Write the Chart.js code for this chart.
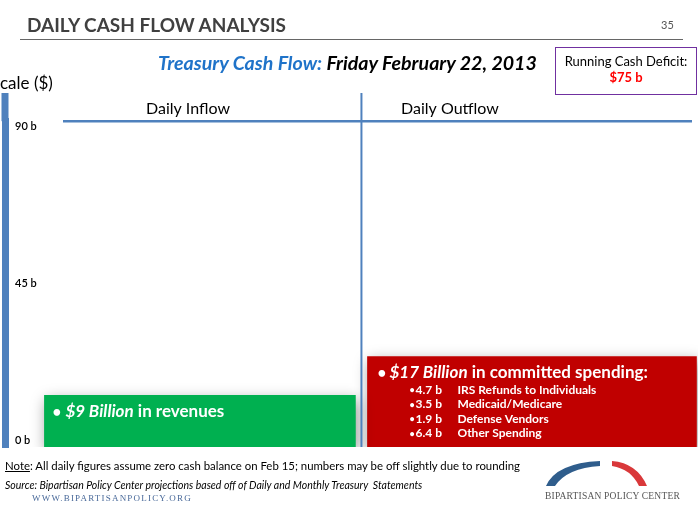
<!DOCTYPE html>
<html lang="en">
<head>
<meta charset="UTF-8">
<title>Daily Cash Flow Analysis</title>
<script src="https://cdn.jsdelivr.net/npm/chart.js@4"></script>
<style>
    body { margin: 0; width: 700px; height: 525px; overflow: hidden; background: #fff; font-family: Lato, 'Open Sans', sans-serif; position: relative; }
    #chart { position: absolute; left: 0; top: 0; }
    .t { position: absolute; white-space: nowrap; line-height: 1; }
    .head { left: 27px; top: 15px; font-size: 19px; font-weight: 700; color: #404040; }
    .rule { position: absolute; left: 20px; top: 39px; width: 663px; height: 1px; background: #666; }
    .page { left: 661px; top: 19px; font-size: 11px; color: #555; }
    .sub { left: 158px; top: 53px; font-size: 19.6px; font-weight: 700; font-style: italic; color: #000; }
    .sub span { color: #1f73c9; }
    .box { position: absolute; left: 555px; top: 47px; width: 140px; height: 41px; border: 1.5px solid #7030a0; text-align: center; font-size: 13px; line-height: 16px; padding-top: 5px; box-sizing: content-box; }
    .box b { color: #ff0000; }
    .scale { left: 0; top: 74px; font-size: 17px; color: #000; }
    .note { left: 5px; top: 460px; font-size: 11.4px; color: #000; }
    .note u { text-decoration: underline; }
    .src { left: 5px; top: 480px; font-size: 10.5px; font-style: italic; color: #000; }
    .url { left: 32px; top: 494px; font-size: 9px; font-family: 'Liberation Serif', 'DejaVu Serif', serif; letter-spacing: 1.2px; color: #4a6a9a; }
    .bpc { left: 545px; top: 492px; font-size: 9.5px; font-family: 'Liberation Serif', 'DejaVu Serif', serif; letter-spacing: 0.2px; color: #555; }
    #logo { position: absolute; left: 0; top: 0; }
</style>
</head>
<body>
<canvas id="chart" width="700" height="525"></canvas>

<div class="t head">DAILY CASH FLOW ANALYSIS</div>
<div class="rule"></div>
<div class="t page">35</div>
<div class="t sub"><span>Treasury Cash Flow:</span> Friday February 22, 2013</div>
<div class="box">Running Cash Deficit:<br><b>$75 b</b></div>
<div class="t scale">cale ($)</div>
<div class="t note"><u>Note</u>: All daily figures assume zero cash balance on Feb 15; numbers may be off slightly due to rounding</div>
<div class="t src">Source: Bipartisan Policy Center projections based off of Daily and Monthly Treasury&nbsp; Statements</div>
<div class="t url">WWW.BIPARTISANPOLICY.ORG</div>
<svg id="logo" width="700" height="525">
    <path d="M546,486 Q556,463 600,461 L600,466 Q567,468 555,486 Z" fill="#2f5d8c"/>
    <path d="M612,461 Q637,463 647,486 L639,486 Q631,469 612,466 Z" fill="#d9383a"/>
</svg>
<div class="t bpc">BIPARTISAN POLICY CENTER</div>

<script>
// values, $ billions
const CATEGORIES = ['Daily Inflow', 'Daily Outflow'];
const FLOWS = [9, 17];
const Y_TICKS = [0, 45, 90];
const OUTFLOW_VALUES = [4.7, 3.5, 1.9, 6.4];
const OUTFLOW_ITEMS = ['IRS Refunds to Individuals', 'Medicaid/Medicare', 'Defense Vendors', 'Other Spending'];

// axis ranges picked so the slide's ticks and boxes land where they are drawn
const Y_RANGE = [-2, 91.4];
const BAR_RANGE = [-1.64, 65.6];
const X_RANGE = [-0.587, 1.5];
const LABEL_AT = [-0.036, 0.753];

const BLUE = '#4f81bd';
const FONT = 'Lato, "Open Sans", sans-serif';

// soft drop shadow under the boxes
const shadow = {
    id: 'shadow',
    beforeDatasetsDraw(chart) {
        const c = chart.ctx;
        c.save();
        c.shadowColor = 'rgba(0,0,0,0.4)';
        c.shadowBlur = 14;
        c.shadowOffsetX = 2;
        c.shadowOffsetY = 5;
    },
    afterDatasetsDraw(chart) { chart.ctx.restore(); }
};

// header rule, divider between the two columns, axis bar running up to the labels
const lines = {
    id: 'lines',
    afterDraw(chart) {
        const c = chart.ctx, a = chart.chartArea, xs = chart.scales.x, ys = chart.scales.y;
        const g = chart.getDatasetMeta(0).data[0], r = chart.getDatasetMeta(1).data[0];
        const mid = ((g.x + g.width / 2) + (r.x - r.width / 2)) / 2;
        c.save();
        c.strokeStyle = BLUE;
        c.lineWidth = 2.5;
        c.beginPath();
        c.moveTo(a.left + 58, a.top); c.lineTo(a.right - 6, a.top);
        c.stroke();
        c.lineWidth = 2;
        c.beginPath();
        c.moveTo(mid, xs.top - 3); c.lineTo(mid, a.bottom);
        c.stroke();
        c.fillStyle = BLUE;
        c.fillRect(ys.right - 3.5, xs.top - 3, 7, a.top - xs.top + 3);
        c.restore();
    }
};

// the writing inside the two boxes
const boxText = {
    id: 'boxText',
    afterDatasetsDraw(chart) {
        const c = chart.ctx;
        const g = chart.getDatasetMeta(0).data[0], r = chart.getDatasetMeta(1).data[0];
        const gl = g.x - g.width / 2, rl = r.x - r.width / 2;
        c.save();
        c.fillStyle = '#fff';
        c.textBaseline = 'alphabetic';

        function runs(x, y, parts) {
            parts.forEach(p => {
                c.font = p[0] + ' ' + FONT;
                c.fillText(p[1], x, y);
                x += c.measureText(p[1]).width;
            });
        }
        c.font = 'bold 15px ' + FONT;
        c.fillText('•', gl + 8, g.y + 22);
        runs(gl + 21, g.y + 22, [['italic bold 17px', '$' + FLOWS[0] + ' Billion'], ['bold 17px', ' in revenues']]);

        c.font = 'bold 15px ' + FONT;
        c.fillText('•', rl + 10, r.y + 21);
        runs(rl + 22, r.y + 21, [['italic bold 17px', '$' + FLOWS[1] + ' Billion'], ['bold 17px', ' in committed spending:']]);

        OUTFLOW_VALUES.forEach((v, i) => {
            const y = r.y + 37 + i * 14.5;
            c.font = 'bold 9px ' + FONT;
            c.fillText('•', rl + 42, y - 0.5);
            c.font = 'bold 12px ' + FONT;
            c.fillText(v.toFixed(1) + ' b', rl + 48, y);
            c.fillText(OUTFLOW_ITEMS[i], rl + 90, y);
        });
        c.restore();
    }
};

new Chart(document.getElementById('chart'), {
    type: 'bar',
    data: {
        datasets: [
            { label: CATEGORIES[0], data: [{ x: 0, y: FLOWS[0] }], backgroundColor: '#00b050', barThickness: 311, grouped: false, yAxisID: 'yb', base: BAR_RANGE[0] },
            { label: CATEGORIES[1], data: [{ x: 1, y: FLOWS[1] }], backgroundColor: '#c00000', barThickness: 329, grouped: false, yAxisID: 'yb', base: BAR_RANGE[0] }
        ]
    },
    options: {
        responsive: false,
        animation: false,
        layout: { padding: { left: 0, right: 2, top: 96, bottom: 78 } },
        plugins: { legend: { display: false }, tooltip: { enabled: false } },
        scales: {
            x: {
                type: 'linear',
                position: 'top',
                offset: false,
                min: X_RANGE[0],
                max: X_RANGE[1],
                grid: { display: false, drawTicks: false, offset: false },
                border: { display: false },
                afterBuildTicks: s => { s.ticks = LABEL_AT.map(v => ({ value: v })); },
                ticks: {
                    padding: 3,
                    color: '#000',
                    font: { family: FONT, size: 16 },
                    callback: (v, i) => CATEGORIES[i]
                }
            },
            y: {
                position: 'left',
                min: Y_RANGE[0],
                max: Y_RANGE[1],
                afterBuildTicks: s => { s.ticks = Y_TICKS.map(v => ({ value: v })); },
                afterFit: s => { s.width = 5; },
                grid: { display: false, drawTicks: false },
                border: { display: true, color: BLUE, width: 7 },
                ticks: {
                    mirror: true,
                    padding: 10,
                    color: '#000',
                    font: { family: FONT, size: 11, weight: '600' },
                    callback: v => v + ' b'
                }
            },
            yb: {
                display: false,
                min: BAR_RANGE[0],
                max: BAR_RANGE[1]
            }
        }
    },
    plugins: [shadow, boxText, lines]
});
</script>
</body>
</html>
